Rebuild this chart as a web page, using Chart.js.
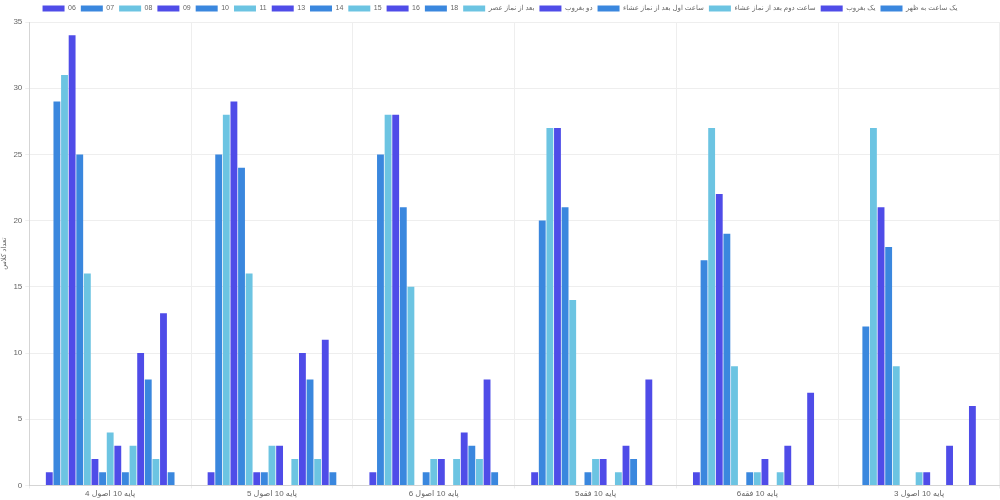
<!DOCTYPE html>
<html>
<head>
<meta charset="utf-8">
<script src="https://cdn.jsdelivr.net/npm/chart.js@4"></script>
<style>
html,body{margin:0;padding:0;background:#fff;}
#wrap{width:1000px;height:500px;}
</style>
</head>
<body>
<div id="wrap"><canvas id="c"></canvas></div>
<script>
const categories = ["پایه 10 اصول 4", "پایه 10 اصول 5", "پایه 10 اصول 6", "پایه 10 فقه5", "پایه 10 فقه6", "پایه 10 اصول 3"];
const seriesNames = ["06","07","08","09","10","11","13","14","15","16","18","بعد از نماز عصر","دو بغروب","ساعت اول بعد از نماز عشاء","ساعت دوم بعد از نماز عشاء","یک بغروب","یک ساعت به ظهر"];
const s06 = [1,1,1,1,1,0];
const s07 = [29,25,25,20,17,12];
const s08 = [31,28,28,27,27,27];
const s09 = [34,29,28,27,22,21];
const s10 = [25,24,21,21,19,18];
const s11 = [16,16,15,14,9,9];
const s13 = [2,1,0,0,0,0];
const s14 = [1,1,1,1,1,0];
const s15 = [4,3,2,2,1,1];
const s16 = [3,3,2,2,2,1];
const s18 = [1,0,0,0,0,0];
const sAsr = [3,2,2,1,1,0];
const sDoGhoroob = [10,10,4,3,3,3];
const sIsha1 = [8,8,3,2,0,0];
const sIsha2 = [2,2,2,0,0,0];
const sYekGhoroob = [13,11,8,8,7,6];
const sZohr = [1,1,1,0,0,0];
const seriesValues = [s06,s07,s08,s09,s10,s11,s13,s14,s15,s16,s18,sAsr,sDoGhoroob,sIsha1,sIsha2,sYekGhoroob,sZohr];
const yTicks = [0,5,10,15,20,25,30,35];
const yTitle = "تعداد کلاس";

const palette = ["#4f4ce8", "#3a87de", "#6cc4e2"];
const datasets = seriesNames.map((n, i) => ({
  label: n,
  data: seriesValues[i],
  backgroundColor: palette[i % 3],
  borderWidth: 0
}));

const FONT = "'Liberation Sans', 'DejaVu Sans', sans-serif";

new Chart(document.getElementById('c'), {
  type: 'bar',
  data: { labels: categories, datasets },
  options: {
    responsive: true,
    maintainAspectRatio: false,
    animation: false,
    layout: { padding: { left: 0, right: 0, top: 0, bottom: 0 } },
    plugins: {
      legend: {
        position: 'top',
        labels: {
          boxWidth: 22, boxHeight: 6,
          padding: 5,
          color: '#666',
          font: { size: 7, family: FONT }
        }
      },
      tooltip: { enabled: false }
    },
    scales: {
      x: {
        grid: { color: '#eeeeee', tickLength: 3 },
        ticks: { color: '#666', padding: 1, font: { size: 8, family: FONT } }
      },
      y: {
        min: 0, max: 35,
        afterBuildTicks: (ax) => { ax.ticks = yTicks.map(v => ({ value: v })); },
        grid: { color: '#eeeeee', tickLength: 4 },
        ticks: { color: '#666', padding: 3, font: { size: 8, family: FONT } },
        title: { display: true, text: yTitle, color: '#666', padding: { top: 0, bottom: 2 }, font: { size: 7, family: FONT } }
      }
    }
  }
});
</script>
</body>
</html>
